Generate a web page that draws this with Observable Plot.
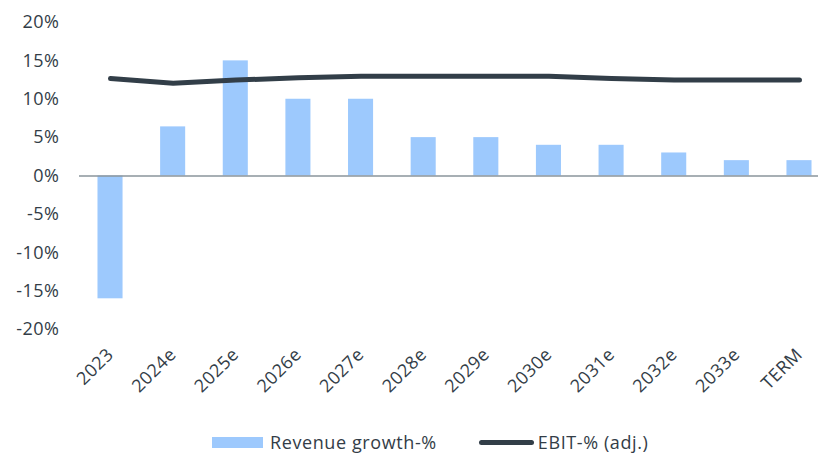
<!DOCTYPE html>
<html>
<head>
<meta charset="utf-8">
<script src="https://cdn.jsdelivr.net/npm/d3@7"></script>
<script src="https://cdn.jsdelivr.net/npm/@observablehq/plot@0.6"></script>
<style>
  html, body { margin: 0; padding: 0; background: #fff; }
  body { width: 818px; height: 453px; overflow: hidden; font-family: "Open Sans", sans-serif; color: #333d47; }
  #legend { display: flex; align-items: center; padding-left: 212px; padding-top: 8px; height: 28px; font-size: 18px; letter-spacing: 0.6px; }
  .sw-bar { width: 51px; height: 11px; background: #9dc9fd; margin-right: 7px; }
  .sw-line { width: 55px; height: 5px; border-radius: 3px; background: #323e48; margin-left: 42px; margin-right: 4px; }
  svg text { letter-spacing: 0.5px; }
</style>
</head>
<body>
<div id="chart"></div>
<div id="legend">
  <div class="sw-bar"></div><span>Revenue growth-%</span>
  <div class="sw-line"></div><span>EBIT-% (adj.)</span>
</div>
<script>
const categories = ["2023", "2024e", "2025e", "2026e", "2027e", "2028e", "2029e", "2030e", "2031e", "2032e", "2033e", "TERM"];
const revenueGrowth = [-16, 6.4, 15, 10, 10, 5, 5, 4, 4, 3, 2, 2];
const ebitMargin = [12.7, 12.1, 12.5, 12.8, 13.0, 13.0, 13.0, 13.0, 12.7, 12.5, 12.5, 12.5];
const yTicks = [-20, -15, -10, -5, 0, 5, 10, 15, 20];

const rows = categories.map((c, i) => ({cat: c, rev: revenueGrowth[i], ebit: ebitMargin[i]}));

const chart = Plot.plot({
  width: 818,
  height: 420,
  marginLeft: 79,
  marginRight: 0,
  marginTop: 22,
  marginBottom: 91,
  style: {fontFamily: "'Open Sans', sans-serif", fontSize: "18px", color: "#333d47", background: "#fff"},
  x: {domain: categories, range: [78.7, 830.3], paddingInner: 0.6, paddingOuter: 0.3, round: false, label: null},
  y: {domain: [-20, 20], label: null},
  marks: [
    Plot.barY(rows, {x: "cat", y: "rev", fill: "#9dc9fd"}),
    Plot.ruleY([0], {stroke: "#8a949b", strokeWidth: 1.5}),
    Plot.lineY(rows, {x: "cat", y: "ebit", stroke: "#323e48", strokeWidth: 5, strokeLinecap: "round", strokeLinejoin: "round", curve: "linear"}),
    Plot.axisY({ticks: yTicks, tickSize: 0, tickPadding: 20, tickFormat: d => `${d}%`, fill: "#333d47", fontSize: 18}),
    Plot.axisX({tickSize: 0, tickPadding: 22, tickRotate: -45, fill: "#333d47", fontSize: 18})
  ]
});
document.getElementById("chart").appendChild(chart);
</script>
</body>
</html>
